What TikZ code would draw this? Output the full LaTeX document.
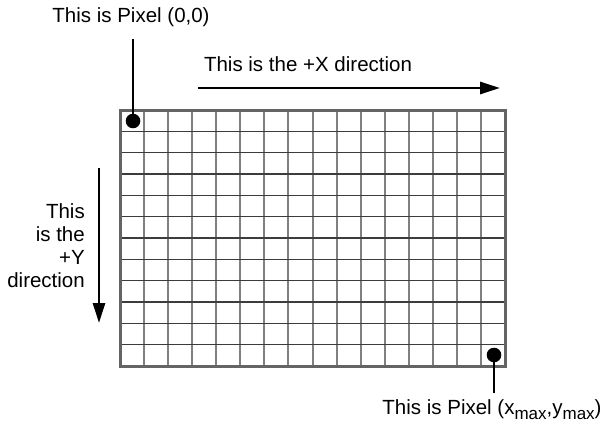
\documentclass[tikz,border=0pt]{standalone}
\usepackage{fontspec}
\setmainfont{Liberation Sans}
\usetikzlibrary{arrows.meta, positioning}
\definecolor{gridgray}{RGB}{128,128,128}
\definecolor{griddark}{RGB}{60,60,60}
\definecolor{framegray}{RGB}{100,100,100}
\newcommand{\pixsub}[1]{\raisebox{-5.5pt}{\fontsize{17}{17}\selectfont #1}}
\tikzset{
  lbl/.style={font=\fontsize{20.5}{23.3}\selectfont, inner sep=0pt},
  pixdot/.style={circle, fill=black, minimum size=14.6pt, inner sep=0pt},
  dirarrow/.style={-{Triangle[length=20pt,width=12pt]}, line width=2.8pt, color=black},
  leader/.style={line width=2.6pt, color=black}
}

\begin{document}
\begin{tikzpicture}[x=1pt, y=-1pt]
  \useasboundingbox (0,0) rectangle (609,433);

  % Screen grid
  \foreach \i in {1,...,15}
    \draw[gridgray, line width=2pt] (120+\i*24.0625, 110) -- (120+\i*24.0625, 366);
  \foreach \j in {1,...,11}
    \draw[griddark, line width=1.6pt] (120, 110+\j*21.3333) -- (505, 110+\j*21.3333);
  \draw[framegray, line width=3pt] (120,110) rectangle (505,366);

  % Corner pixels
  \node[pixdot] (origin) at (133,121) {};
  \node[pixdot] (last) at (494,355) {};
  \node[lbl, anchor=base] (originlbl) at (131,23) {This is Pixel (0,0)};
  \node[lbl, anchor=base] (lastlbl) at (492,414) {This is Pixel (x\pixsub{max},y\pixsub{max})};
  \coordinate (origintop) at (133,39);
  \coordinate (lastbot) at (494,393);
  \draw[leader] (origin.center) -- (origintop);
  \draw[leader] (last.center) -- (lastbot);

  % Directions
  \coordinate (xstart) at (198,88);
  \coordinate (xend) at (500,88);
  \draw[dirarrow] (xstart) -- (xend);
  \node[lbl, anchor=base] (xlbl) at (308,72) {This is the +X direction};
  \coordinate (ystart) at (99,168);
  \coordinate (yend) at (99,323);
  \draw[dirarrow] (ystart) -- (yend);
  \node[lbl, align=right, anchor=north east] (ylbl) at (85,203) {This\\is the\\+Y\\direction};
\end{tikzpicture}
\end{document}
